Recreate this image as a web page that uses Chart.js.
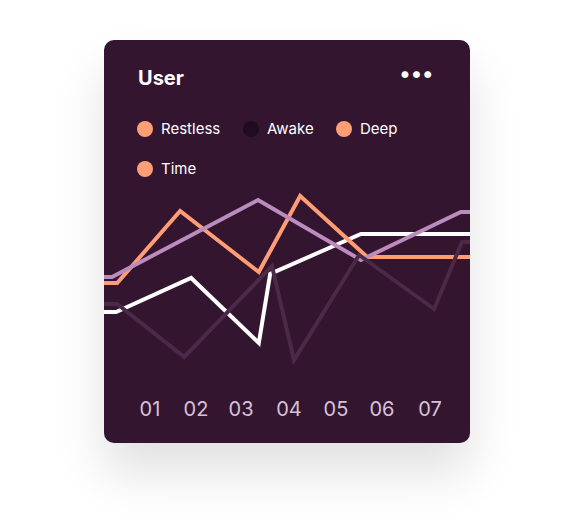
<!DOCTYPE html>
<html><head><meta charset="utf-8">
<script src="https://cdn.jsdelivr.net/npm/chart.js@4"></script>
<style>
body{margin:0;background:#fff;font-family:Inter,"Open Sans",sans-serif;}
#card{position:absolute;left:104px;top:40px;width:366px;height:403px;background:#331530;border-radius:10px;box-shadow:0 30px 50px rgba(0,0,0,0.12);overflow:hidden;}
#title{position:absolute;left:34px;top:26px;color:#fff;font-weight:700;font-size:20px;}
#dots{position:absolute;right:36px;top:20px;color:#fff;font-size:22px;font-weight:700;letter-spacing:1px;}
.lg{position:absolute;color:#fff;font-size:15px;display:flex;align-items:center;}
.lg i{display:inline-block;width:16px;height:16px;border-radius:50%;margin-right:8px;}
#wrap{position:absolute;left:0;top:140px;width:366px;height:200px;}
#ticks{position:absolute;top:357px;left:0;width:366px;color:#d6c3d8;font-size:20px;}
#ticks span{position:absolute;transform:translateX(-50%);}
</style></head><body>
<div id="card">
<div id="title">User</div><div id="dots">•••</div>
<div class="lg" style="left:33px;top:79px"><i style="background:#ff9e74"></i>Restless</div>
<div class="lg" style="left:139px;top:79px"><i style="background:#1f0c1e"></i>Awake</div>
<div class="lg" style="left:232px;top:79px"><i style="background:#ff9e74"></i>Deep</div>
<div class="lg" style="left:33px;top:119px"><i style="background:#ff9e74"></i>Time</div>
<div id="wrap"><canvas id="c"></canvas></div>
<div id="ticks"></div>
</div>
<script>
const labels = ['01','02','03','04','05','06','07'];
const labelX = [46,92,137,185,232,278,326];
const purple = [[0,51.5],[2.2,51.5],[42.1,90],[70.2,60],[97.5,84],[100,84]];
const orange = [[0,48.5],[3.6,48.5],[20.8,84.5],[42.3,54],[53.6,92],[71.9,61.5],[100,61.5]];
const white = [[0,34],[3.3,34],[23.8,51],[42.3,18.5],[45.4,53],[70.2,73],[100,73]];
const faint = [[0,38],[3.6,38],[21.9,11.5],[45.9,57],[51.9,10],[69.7,62.5],[90.2,35.5],[97.8,69],[100,69]];

const t = document.getElementById('ticks');
labels.forEach((l, i) => { const s = document.createElement('span'); s.textContent = l; s.style.left = labelX[i] + 'px'; t.appendChild(s); });

const pts = a => a.map(p => ({x: p[0], y: p[1]}));
const ds = (d, c) => ({data: pts(d), borderColor: c, borderWidth: 4, pointRadius: 0, tension: 0, fill: false});
new Chart(document.getElementById('c'), {
  type: 'line',
  data: {datasets: [ds(faint, '#4a2a48'), ds(purple, '#bb8cbd'), ds(orange, '#ff9e74'), ds(white, '#ffffff')]},
  options: {
    responsive: true, maintainAspectRatio: false, animation: false,
    layout: {padding: 0},
    plugins: {legend: {display: false}, tooltip: {enabled: false}},
    scales: {
      x: {type: 'linear', min: 0, max: 100, display: false},
      y: {min: 0, max: 100, display: false}
    }
  }
});
</script>
</body></html>
